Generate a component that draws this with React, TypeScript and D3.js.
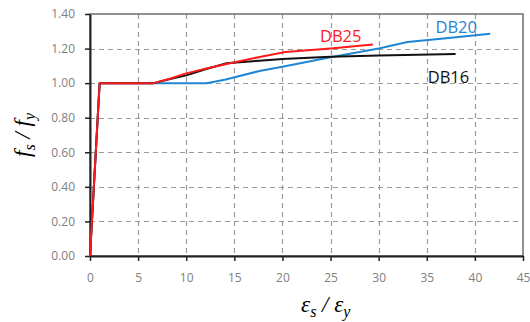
import React, { useEffect, useRef } from 'react';
import * as d3 from 'd3';

// strain ratio (es/ey) and stress ratio (fs/fy)
const db16X = [0, 1, 6.6, 8, 10, 12, 14.2, 17.6, 20, 25, 30, 38];
const db16Y = [0, 1.0, 1.0, 1.02, 1.045, 1.08, 1.115, 1.13, 1.14, 1.152, 1.16, 1.168];

const db20X = [0, 1, 12.1, 14, 17.6, 20, 25, 30, 33, 37, 41.6];
const db20Y = [0, 1.0, 1.0, 1.02, 1.07, 1.095, 1.15, 1.2, 1.238, 1.26, 1.286];

const db25X = [0, 1, 6.6, 8.3, 9.9, 12.1, 14.9, 17.5, 20.3, 25, 29.4];
const db25Y = [0, 1.0, 1.0, 1.025, 1.055, 1.085, 1.12, 1.15, 1.18, 1.2, 1.224];

const xTicks = [0, 5, 10, 15, 20, 25, 30, 35, 40, 45];
const yTicks = [0, 0.2, 0.4, 0.6, 0.8, 1.0, 1.2, 1.4];

const seriesNames = ['DB20', 'DB16', 'DB25'];
const seriesColors = ['#1f86d4', '#111111', '#ff1a1a'];

const App = () => {
  const svgRef = useRef<SVGSVGElement>(null);
  const width = 530;
  const height = 322;

  useEffect(() => {
    const svg = d3.select(svgRef.current);
    svg.selectAll('*').remove();

    const margin = { top: 14, right: 7, bottom: 66, left: 90 };
    const chartWidth = width - margin.left - margin.right;
    const chartHeight = height - margin.top - margin.bottom;

    const x = d3.scaleLinear().domain([0, 45]).range([0, chartWidth]);
    const y = d3.scaleLinear().domain([0, 1.4]).range([chartHeight, 0]);

    const g = svg.append('g')
      .attr('transform', `translate(${margin.left},${margin.top})`);

    // dashed grid
    g.append('g')
      .selectAll('line')
      .data(xTicks.slice(1, -1))
      .enter().append('line')
      .attr('x1', d => Math.round(x(d)) + 0.5).attr('x2', d => Math.round(x(d)) + 0.5)
      .attr('y1', 0).attr('y2', chartHeight)
      .attr('stroke', '#9a9a9a')
      .attr('stroke-width', 1.2)
      .attr('stroke-dasharray', '5,4');

    g.append('g')
      .selectAll('line')
      .data(yTicks.slice(1, -1))
      .enter().append('line')
      .attr('x1', 0).attr('x2', chartWidth)
      .attr('y1', d => Math.round(y(d)) + 0.5).attr('y2', d => Math.round(y(d)) + 0.5)
      .attr('stroke', '#9a9a9a')
      .attr('stroke-width', 1.2)
      .attr('stroke-dasharray', '5,4');

    // frame
    g.append('rect')
      .attr('x', 0).attr('y', 0)
      .attr('width', chartWidth).attr('height', chartHeight)
      .attr('fill', 'none')
      .attr('stroke', '#6e6e6e')
      .attr('stroke-width', 1.5);

    // axes
    const xAxis = g.append('g')
      .attr('transform', `translate(0,${chartHeight})`)
      .call(d3.axisBottom(x).tickValues(xTicks).tickSize(5).tickSizeOuter(0).tickPadding(12).tickFormat(d3.format('d')));
    const yAxis = g.append('g')
      .call(d3.axisLeft(y).tickValues(yTicks).tickSize(5).tickSizeOuter(0).tickPadding(10).tickFormat(d3.format('.2f')));

    [xAxis, yAxis].forEach(a => {
      a.select('.domain').attr('stroke', '#222').attr('stroke-width', 2);
      a.selectAll('.tick line').attr('stroke', '#222').attr('stroke-width', 1.5);
      a.selectAll('.tick text')
        .attr('fill', '#808080')
        .style('font-family', '"Open Sans", sans-serif')
        .style('font-size', '12px');
    });

    // curves
    const line = d3.line<[number, number]>()
      .x(d => x(d[0]))
      .y(d => y(d[1]));

    const series = [
      d3.zip(db20X, db20Y) as [number, number][],
      d3.zip(db16X, db16Y) as [number, number][],
      d3.zip(db25X, db25Y) as [number, number][],
    ];

    series.forEach((s, i) => {
      g.append('path')
        .datum(s)
        .attr('fill', 'none')
        .attr('stroke', seriesColors[i])
        .attr('stroke-width', 2)
        .attr('stroke-linejoin', 'round')
        .attr('d', line);
    });

    // series labels (baseline anchored)
    const labelPos: [number, number][] = [[35.9, 1.29], [35.1, 1.0], [23.9, 1.236]];
    labelPos.forEach((p, i) => {
      g.append('text')
        .attr('x', x(p[0]))
        .attr('y', y(p[1]))
        .attr('fill', seriesColors[i])
        .style('font-family', '"Open Sans", sans-serif')
        .style('font-size', '16.5px')
        .text(seriesNames[i]);
    });

    // axis titles
    const yTitle = svg.append('text')
      .attr('transform', `translate(30,${margin.top + chartHeight / 2}) rotate(-90)`)
      .attr('text-anchor', 'middle')
      .style('font-family', '"Liberation Serif", serif')
      .style('font-style', 'italic')
      .style('font-size', '23px');
    yTitle.append('tspan').text('f');
    yTitle.append('tspan').attr('font-size', '16px').attr('dy', 5).text('s');
    yTitle.append('tspan').attr('dy', -5).text(' / f');
    yTitle.append('tspan').attr('font-size', '16px').attr('dy', 5).text('y');

    const xTitle = svg.append('text')
      .attr('x', margin.left + x(24.5))
      .attr('y', 312)
      .attr('text-anchor', 'middle')
      .style('font-family', '"Liberation Serif", serif')
      .style('font-style', 'italic')
      .style('font-size', '23px');
    xTitle.append('tspan').text('ε');
    xTitle.append('tspan').attr('font-size', '16px').attr('dy', 5).text('s');
    xTitle.append('tspan').attr('dy', -5).text(' / ε');
    xTitle.append('tspan').attr('font-size', '16px').attr('dy', 5).text('y');
  }, []);

  return (
    <svg ref={svgRef} width={width} height={height}
      style={{ position: 'absolute', left: 0, top: 0, background: '#fff' }} />
  );
};

export default App;
